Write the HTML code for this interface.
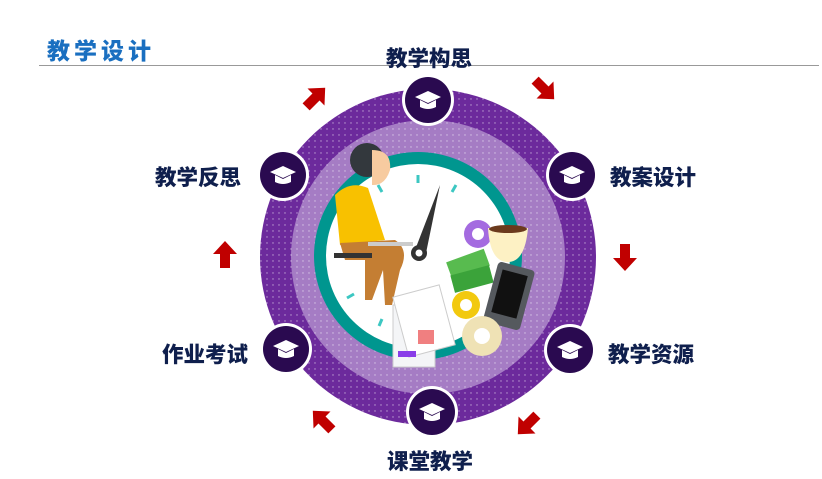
<!DOCTYPE html>
<html><head><meta charset="utf-8"><style>
body{margin:0;width:822px;height:479px;background:#fff;overflow:hidden;position:relative;font-family:"Liberation Sans","Noto Sans CJK SC",sans-serif}
.t{position:absolute;font-weight:900;color:#0f1f4d;font-size:21.5px;white-space:nowrap;font-family:"Liberation Sans","Noto Sans CJK SC",sans-serif}
</style></head><body>
<div style="position:absolute;left:47px;top:32px;font-size:23px;font-weight:900;color:#1a6fc0;letter-spacing:4px;font-family:'Liberation Sans','Noto Sans CJK SC',sans-serif">教学设计</div>
<div style="position:absolute;left:39px;top:65px;width:780px;height:1px;background:#999"></div>
<svg width="822" height="479" style="position:absolute;left:0;top:0">
<defs>
<pattern id="d" width="6" height="6" patternUnits="userSpaceOnUse"><circle cx="3" cy="3" r="0.7" fill="#fff" opacity="0.55"/></pattern>
<g id="n"><circle r="26" fill="#fff"/><circle r="23" fill="#2a0a50"/>
<path d="M-13 -3 L0 -9 L13 -3 L0 3Z" fill="#fff"/><path d="M-8 0 L-8 7 Q0 11 8 7 L8 0 L0 4Z" fill="#fff"/></g>
<path id="a" d="M-5 -14 L5 -14 L5 0 L12 0 L0 13 L-12 0 L-5 0Z" fill="#c00000"/>
</defs>
<circle cx="428" cy="257" r="168" fill="#6c2a9c"/>
<circle cx="428" cy="257" r="168" fill="url(#d)"/>
<circle cx="428" cy="257" r="137" fill="#a57cc4"/>
<circle cx="428" cy="257" r="137" fill="url(#d)"/>
<circle cx="418" cy="256" r="104" fill="#00968f"/>
<circle cx="418" cy="256" r="92" fill="#fff"/>
<g stroke="#3cc7c2" stroke-width="3">
<line x1="418" y1="175" x2="418" y2="183"/><line x1="456" y1="185" x2="452" y2="192"/><line x1="378" y1="185" x2="382" y2="192"/><line x1="347" y1="298" x2="354" y2="294"/><line x1="379" y1="326" x2="382" y2="319"/>
</g>
<path d="M440 185 L415 250 L425 258Z" fill="#333"/>
<circle cx="419" cy="253" r="8" fill="#333"/><circle cx="419" cy="253" r="3.5" fill="#fff"/>
<!-- person -->
<circle cx="367" cy="160" r="17" fill="#33383d"/>
<path d="M372 150 Q392 150 390 170 Q385 186 372 185Z" fill="#f7cba0"/>
<path d="M335 195 Q350 180 368 188 L385 240 L340 245Z" fill="#f8c100"/>
<path d="M340 243 L395 240 Q410 250 400 270 L392 305 L385 305 L383 270 L372 300 L365 300 L365 260 L345 260Z" fill="#c47e33"/>
<rect x="334" y="253" width="38" height="5" fill="#333"/>
<rect x="368" y="242" width="45" height="4" fill="#ccc"/>
<!-- props -->
<circle cx="478" cy="234" r="14" fill="#a46be0"/><circle cx="478" cy="234" r="6" fill="#fff"/>
<path d="M488 228 L528 228 Q525 262 508 262 Q490 262 488 228Z" fill="#fdf1c4"/>
<ellipse cx="508" cy="229" rx="19" ry="4" fill="#6b3a1d"/>
<rect x="448" y="255" width="40" height="18" fill="#58bb4f" transform="rotate(-20 468 264)"/>
<rect x="452" y="270" width="40" height="18" fill="#3ba33a" transform="rotate(-15 472 279)"/>
<rect x="490" y="265" width="38" height="62" rx="4" fill="#55595e" transform="rotate(15 509 296)"/>
<rect x="496" y="272" width="26" height="44" fill="#111" transform="rotate(15 509 296)"/>
<circle cx="466" cy="305" r="14" fill="#f2c90f"/><circle cx="466" cy="305" r="6" fill="#fff"/>
<circle cx="482" cy="336" r="20" fill="#efe2b5"/><circle cx="482" cy="336" r="8" fill="#fff"/>
<rect x="393" y="305" width="42" height="62" fill="#f4f5f7" stroke="#ccc"/>
<rect x="400" y="290" width="48" height="62" fill="#fff" stroke="#ccc" transform="rotate(-15 424 321)"/>
<rect x="418" y="330" width="16" height="14" fill="#f07f80"/>
<rect x="398" y="351" width="18" height="6" fill="#8a3ee8"/>
<use href="#n" x="428" y="100"/><use href="#n" x="572" y="175"/><use href="#n" x="570" y="350"/>
<use href="#n" x="432" y="412"/><use href="#n" x="286" y="349"/><use href="#n" x="283" y="175"/>
<use href="#a" transform="translate(316,97) rotate(-135)"/>
<use href="#a" transform="translate(545,90) rotate(-45)"/>
<use href="#a" transform="translate(625,258)"/>
<use href="#a" transform="translate(527,425) rotate(45)"/>
<use href="#a" transform="translate(322,420) rotate(135)"/>
<use href="#a" transform="translate(225,254) rotate(180)"/>
</svg>
<div class="t" style="left:386px;top:42px">教学构思</div>
<div class="t" style="left:610px;top:161px">教案设计</div>
<div class="t" style="left:608px;top:338px">教学资源</div>
<div class="t" style="left:387px;top:445px">课堂教学</div>
<div class="t" style="left:162px;top:338px">作业考试</div>
<div class="t" style="left:155px;top:161px">教学反思</div>
</body></html>
